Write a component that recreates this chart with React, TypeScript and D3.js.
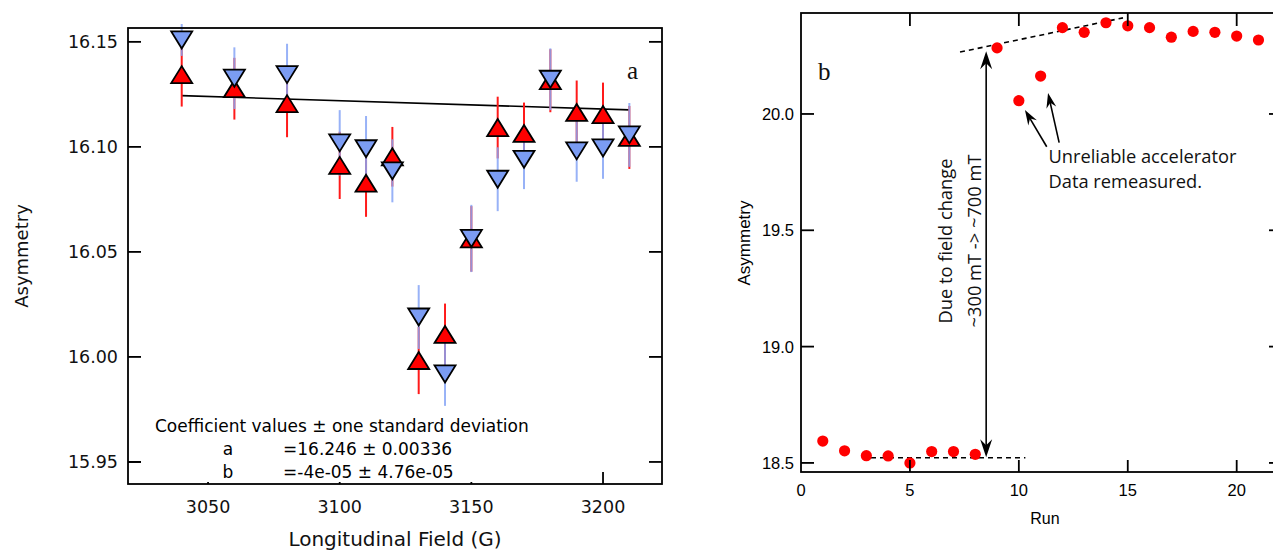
import React from 'react';
import * as d3 from 'd3';

// ---------- Panel a data ----------
const fields = [3040, 3060, 3080, 3100, 3110, 3120, 3130, 3140, 3150, 3160, 3170, 3180, 3190, 3200, 3210];
const redAsym = [16.1344, 16.1277, 16.1206, 16.0912, 16.0827, 16.0953, 15.9983, 16.0107, 16.0562, 16.1092, 16.1064, 16.1315, 16.1164, 16.1154, 16.1045];
const redErr = [0.0152, 0.0147, 0.016, 0.016, 0.016, 0.0142, 0.016, 0.0147, 0.0156, 0.0147, 0.0147, 0.015, 0.0152, 0.0152, 0.015];
const blueAsym = [16.1509, 16.1327, 16.1344, 16.1019, 16.0991, 16.0886, 16.019, 15.9919, 16.0564, 16.0846, 16.0941, 16.1322, 16.0981, 16.0995, 16.1057];
const blueErr = [0.0076, 0.0147, 0.0147, 0.0156, 0.0156, 0.015, 0.0152, 0.0152, 0.016, 0.0152, 0.0142, 0.0147, 0.0147, 0.0147, 0.0152];
const fitA = 16.246;
const fitB = -4e-5;
const leftYTicks = [15.95, 16.0, 16.05, 16.1, 16.15];
const leftXTicks = [3050, 3100, 3150, 3200];
const coefLines = ['Coefficient values \u00b1 one standard deviation'];
const coefNames = ['a', 'b'];
const coefValues = ['=16.246 \u00b1 0.00336', '=-4e-05 \u00b1 4.76e-05'];

// ---------- Panel b data ----------
const runs = [1, 2, 3, 4, 5, 6, 7, 8, 9, 10, 11, 12, 13, 14, 15, 16, 17, 18, 19, 20, 21];
const runAsym = [18.594, 18.552, 18.531, 18.53, 18.5, 18.549, 18.549, 18.537, 20.284, 20.057, 20.163, 20.371, 20.351, 20.392, 20.379, 20.371, 20.33, 20.355, 20.351, 20.335, 20.318];
const rightYTicks = [18.5, 19.0, 19.5, 20.0];
const rightXTicks = [0, 5, 10, 15, 20];
const topDash = [[7.3, 20.266], [14.78, 20.413]];
const bottomDash = [[2.8, 18.522], [10.3, 18.522]];
const fieldArrow = { run: 8.5, from: 18.524, to: 20.27 };
const noteArrows = [
  { x1: 11.28, y1: 19.859, x2: 10.28, y2: 20.017 },
  { x1: 11.85, y1: 19.877, x2: 11.34, y2: 20.09 },
];

const LF = '"DejaVu Sans", Verdana, sans-serif';
const RF = '"Liberation Sans", Arial, sans-serif';
const OF = '"Open Sans", "Noto Sans", sans-serif';
const SERIF = '"Liberation Serif", "Times New Roman", serif';

function arrowHead(tipX: number, tipY: number, angle: number, len: number, half: number, notch: number) {
  const ca = Math.cos(angle), sa = Math.sin(angle);
  const pt = (b: number, s: number) => [tipX - ca * b - sa * s, tipY - sa * b + ca * s];
  const p1 = pt(len, half);
  const p2 = pt(notch, 0);
  const p3 = pt(len, -half);
  return `M${tipX},${tipY}L${p1[0]},${p1[1]}L${p2[0]},${p2[1]}L${p3[0]},${p3[1]}Z`;
}

export default function App() {
  const xL = d3.scaleLinear().domain([3019.6, 3222.4]).range([128, 662]);
  const yL = d3.scaleLinear().domain([15.9395, 16.1566]).range([484, 28]);
  const L = { x0: 128, x1: 662, y0: 28, y1: 484 };

  const xR = d3.scaleLinear().domain([0, 22.08]).range([801, 1282]);
  const yR = d3.scaleLinear().domain([18.461, 20.434]).range([472, 13]);
  const R = { x0: 801, x1: 1282, y0: 13, y1: 472 };

  const triW = 10.5, triH = 8.5;
  const upTri = (cx: number, cy: number) => `M${cx - triW},${cy + triH}L${cx + triW},${cy + triH}L${cx},${cy - triH}Z`;
  const downTri = (cx: number, cy: number) => `M${cx - triW},${cy - triH}L${cx + triW},${cy - triH}L${cx},${cy + triH}Z`;

  const fitLine = d3.line<number>().x((f) => xL(f)).y((f) => yL(fitA + fitB * f));
  const fitX = [fields[0], fields[fields.length - 1]];

  const dashLine = d3.line<number[]>().x((d) => xR(d[0])).y((d) => yR(d[1]));

  const vaX = xR(fieldArrow.run);
  const vaTop = yR(fieldArrow.to);
  const vaBot = yR(fieldArrow.from);

  const coefBlock = (k: string) => (
    <g key={k}>
      <rect x={150} y={408} width={385} height={74} fill="#fff" />
      <text x={155} y={432} fontFamily={LF} fontSize={17} fill="#000">{coefLines[0]}</text>
      {coefNames.map((n, i) => (
        <g key={k + i}>
          <text x={228} y={455 + i * 23} fontFamily={LF} fontSize={17} textAnchor="middle" fill="#000">{n}</text>
          <text x={283} y={455 + i * 23} fontFamily={LF} fontSize={17} fill="#000">{coefValues[i]}</text>
        </g>
      ))}
    </g>
  );

  return (
    <svg width={1273} height={550} style={{ position: 'absolute', left: 0, top: 0, background: '#fff' }}>
      <rect x={0} y={0} width={1273} height={550} fill="#fff" />
      {/* ================= Panel a ================= */}
      <path d={fitLine(fitX) || ''} stroke="#000" strokeWidth={1.6} fill="none" />
      {fields.map((f, i) => (
        <line key={'re' + i} x1={xL(f)} x2={xL(f)} y1={yL(redAsym[i] - redErr[i])} y2={yL(redAsym[i] + redErr[i])} stroke="#ff1a1a" strokeWidth={2} />
      ))}
      {fields.map((f, i) => (
        <line key={'be' + i} x1={xL(f)} x2={xL(f)} y1={yL(blueAsym[i] - blueErr[i])} y2={yL(blueAsym[i] + blueErr[i])} stroke="#86a4f6" strokeWidth={2} strokeOpacity={0.85} />
      ))}
      {fields.map((f, i) => (
        <path key={'rm' + i} d={upTri(xL(f), yL(redAsym[i]))} fill="#ff0000" stroke="#000" strokeWidth={1.8} strokeLinejoin="miter" />
      ))}
      {fields.map((f, i) => (
        <path key={'bm' + i} d={downTri(xL(f), yL(blueAsym[i]))} fill="#7b9cf3" stroke="#000" strokeWidth={1.8} strokeLinejoin="miter" />
      ))}
      <rect x={L.x0} y={L.y0} width={L.x1 - L.x0} height={L.y1 - L.y0} fill="none" stroke="#000" strokeWidth={1.8} />
      {leftYTicks.map((t) => (
        <g key={'ly' + t}>
          <line x1={L.x0} x2={L.x0 + 13} y1={yL(t)} y2={yL(t)} stroke="#000" strokeWidth={1.8} />
          <line x1={L.x1} x2={L.x1 - 13} y1={yL(t)} y2={yL(t)} stroke="#000" strokeWidth={1.8} />
          <text x={118} y={yL(t)} dy="0.36em" textAnchor="end" fontFamily={LF} fontSize={17.5} fill="#111">{t.toFixed(2)}</text>
        </g>
      ))}
      {leftXTicks.map((t) => (
        <g key={'lx' + t}>
          <line x1={xL(t)} x2={xL(t)} y1={L.y1} y2={L.y1 - 12} stroke="#000" strokeWidth={1.8} />
          <text x={xL(t)} y={513} textAnchor="middle" fontFamily={LF} fontSize={17.5} fill="#111">{t}</text>
        </g>
      ))}
      {coefBlock('cf')}
      <line x1={L.x0} x2={L.x0 + 13} y1={yL(15.95)} y2={yL(15.95)} stroke="#000" strokeWidth={1.8} />
      <text x={395} y={546} textAnchor="middle" fontFamily={LF} fontSize={20} fill="#111">Longitudinal Field (G)</text>
      <text transform={`translate(28,${256}) rotate(-90)`} textAnchor="middle" fontFamily={LF} fontSize={18} fill="#111">Asymmetry</text>
      <text x={627} y={79} fontFamily={SERIF} fontSize={25} fill="#111">a</text>

      {/* ================= Panel b ================= */}
      <path d={dashLine(topDash) || ''} stroke="#000" strokeWidth={1.6} strokeDasharray="5,4" fill="none" />
      <path d={dashLine(bottomDash) || ''} stroke="#000" strokeWidth={1.6} strokeDasharray="5,4" fill="none" />
      {runs.map((r, i) => (
        <circle key={'rd' + i} cx={xR(r)} cy={yR(runAsym[i])} r={5.6} fill="#ff0000" />
      ))}
      <line x1={vaX} x2={vaX} y1={vaTop + 10} y2={vaBot - 10} stroke="#000" strokeWidth={1.6} />
      <path d={arrowHead(vaX, vaTop, -Math.PI / 2, 18, 6, 12)} fill="#000" />
      <path d={arrowHead(vaX, vaBot, Math.PI / 2, 18, 6, 12)} fill="#000" />
      {noteArrows.map((a, i) => {
        const x1 = xR(a.x1), y1 = yR(a.y1), x2 = xR(a.x2), y2 = yR(a.y2);
        const ang = Math.atan2(y2 - y1, x2 - x1);
        return (
          <g key={'na' + i}>
            <line x1={x1} y1={y1} x2={x2 - Math.cos(ang) * 8} y2={y2 - Math.sin(ang) * 8} stroke="#000" strokeWidth={1.6} />
            <path d={arrowHead(x2, y2, ang, 15, 5, 10)} fill="#000" />
          </g>
        );
      })}
      <text x={xR(11.36)} y={yR(19.789)} fontFamily={OF} fontSize={18.3} fill="#111">Unreliable accelerator</text>
      <text x={xR(11.36)} y={yR(19.682)} fontFamily={OF} fontSize={18.3} fill="#111">Data remeasured.</text>
      <text transform={`translate(${xR(6.95)},${yR(19.454)}) rotate(-90)`} textAnchor="middle" fontFamily={OF} fontSize={18.3} fill="#111">Due to field change</text>
      <text transform={`translate(${xR(8.28)},${yR(19.454)}) rotate(-90)`} textAnchor="middle" fontFamily={OF} fontSize={18.3} fill="#111">~300 mT -&gt; ~700 mT</text>
      <rect x={R.x0} y={R.y0} width={R.x1 - R.x0} height={R.y1 - R.y0} fill="none" stroke="#000" strokeWidth={1.8} />
      {rightYTicks.map((t) => (
        <g key={'ry' + t}>
          <line x1={R.x0} x2={R.x0 + 13} y1={yR(t)} y2={yR(t)} stroke="#000" strokeWidth={1.8} />
          <line x1={R.x1} x2={R.x1 - 13} y1={yR(t)} y2={yR(t)} stroke="#000" strokeWidth={1.8} />
          <text x={794} y={yR(t)} dy="0.36em" textAnchor="end" fontFamily={RF} fontSize={16.5} fill="#000">{t.toFixed(1)}</text>
        </g>
      ))}
      {rightXTicks.map((t) => (
        <g key={'rx' + t}>
          {t > 0 && <line x1={xR(t)} x2={xR(t)} y1={R.y1} y2={R.y1 - 12} stroke="#000" strokeWidth={1.8} />}
          {t > 0 && <line x1={xR(t)} x2={xR(t)} y1={R.y0} y2={R.y0 + 13} stroke="#000" strokeWidth={1.8} />}
          <text x={xR(t)} y={496} textAnchor="middle" fontFamily={RF} fontSize={16.5} fill="#000">{t}</text>
        </g>
      ))}
      <text x={1045} y={524} textAnchor="middle" fontFamily={RF} fontSize={16} fill="#000">Run</text>
      <text transform={`translate(750,243) rotate(-90)`} textAnchor="middle" fontFamily={RF} fontSize={17} fill="#000">Asymmetry</text>
      <text x={818} y={80} fontFamily={SERIF} fontSize={25} fill="#111">b</text>
    </svg>
  );
}
